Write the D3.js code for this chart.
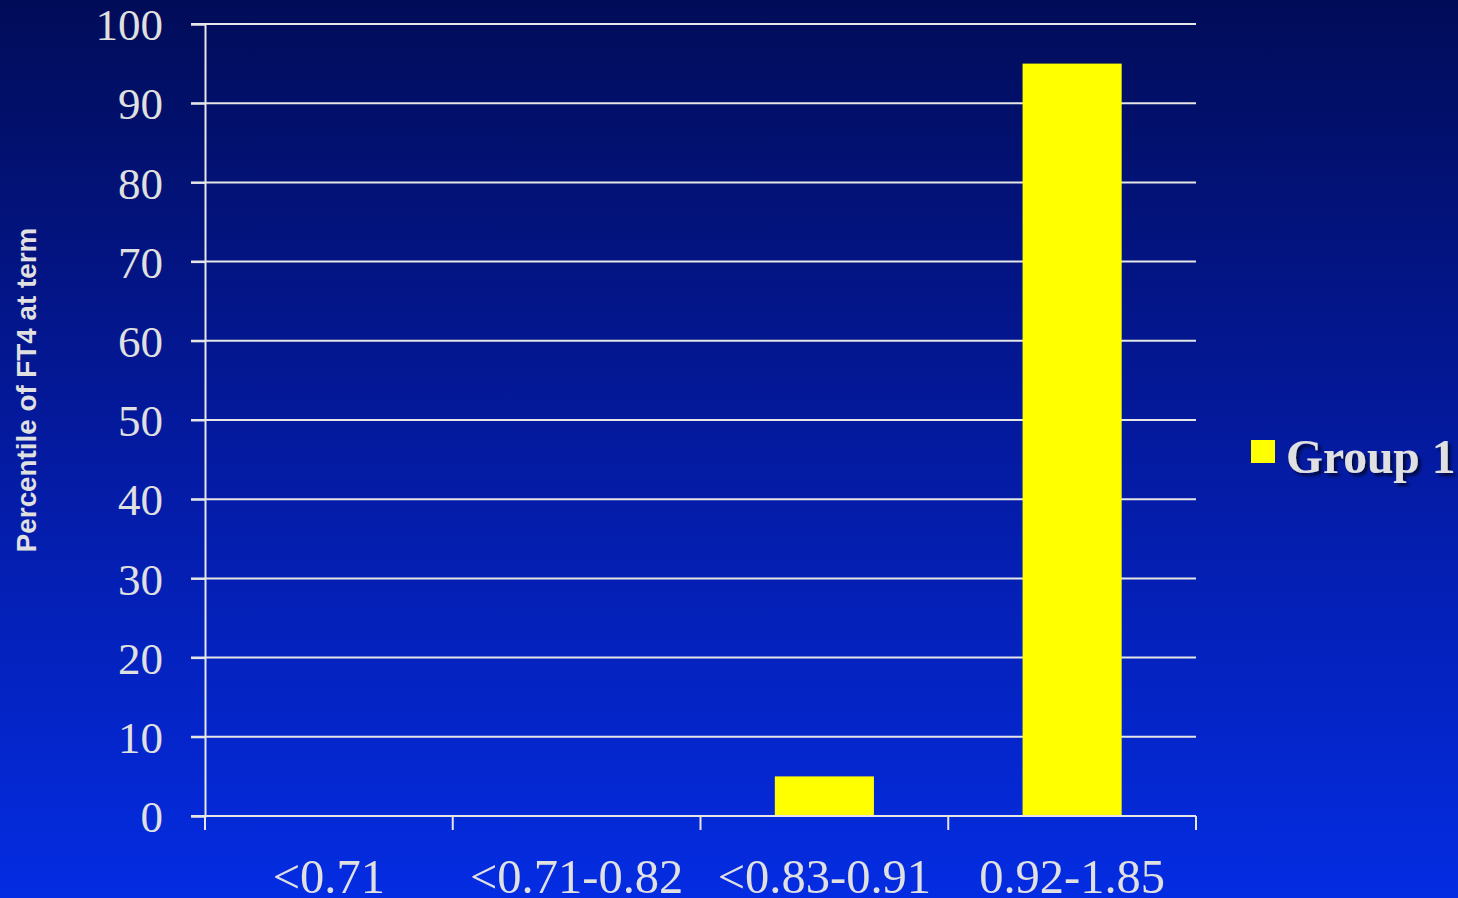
<!DOCTYPE html>
<html><head><meta charset="utf-8">
<script src="https://cdn.jsdelivr.net/npm/d3@7"></script>
<style>html,body{margin:0;padding:0;overflow:hidden;background:#021a9a}</style>
</head><body>
<script>
const categories = ["<0.71", "<0.71-0.82", "<0.83-0.91", "0.92-1.85"];
const group1 = [0, 0, 5, 95];
const yTicks = [0, 10, 20, 30, 40, 50, 60, 70, 80, 90, 100];
const seriesName = "Group 1";
const yTitle = "Percentile of FT4 at term";

(function () {
const W = 1458, H = 898;
const svg = d3.select("body").append("svg").attr("width", W).attr("height", H);
const defs = svg.append("defs");
const grad = defs.append("linearGradient").attr("id", "bg").attr("x1", 0).attr("y1", 0).attr("x2", 0).attr("y2", 1);
grad.append("stop").attr("offset", "0%").attr("stop-color", "#010c58");
grad.append("stop").attr("offset", "50%").attr("stop-color", "#041aa0");
grad.append("stop").attr("offset", "100%").attr("stop-color", "#042ce2");
const sh = defs.append("filter").attr("id", "shadow").attr("x", "-10%").attr("y", "-10%").attr("width", "130%").attr("height", "140%");
sh.append("feDropShadow").attr("dx", 3).attr("dy", 3).attr("stdDeviation", 1.5).attr("flood-color", "#000").attr("flood-opacity", 0.6);

svg.append("rect").attr("width", W).attr("height", H).attr("fill", "url(#bg)");

const pl = 205, pr = 1196, pt = 24, pb = 816;
const x = d3.scaleBand().domain(categories).range([pl, pr]).paddingInner(0).paddingOuter(0);
const y = d3.scaleLinear().domain([0, 100]).range([pb, pt]);
const lineColor = "#e6e6e6";
const textColor = "#e0e0e0";

// gridlines
svg.append("g").selectAll("line").data(yTicks).join("line")
  .attr("x1", pl - 14).attr("x2", pr)
  .attr("y1", d => y(d)).attr("y2", d => y(d))
  .attr("stroke", lineColor).attr("stroke-width", 2);

// y axis
const yAxis = svg.append("g").attr("transform", `translate(${pl},0)`)
  .call(d3.axisLeft(y).tickValues(yTicks).tickSize(14).tickPadding(28));
yAxis.select(".domain").attr("stroke", lineColor).attr("stroke-width", 2);
yAxis.selectAll(".tick line").attr("stroke", lineColor).attr("stroke-width", 2);
yAxis.selectAll("text").attr("fill", textColor).style("font-family", "'Liberation Serif', 'Times New Roman', serif")
  .style("font-size", "45px").attr("dy", "0.35em");

// bars
svg.append("g").selectAll("rect").data(group1).join("rect")
  .attr("x", (d, i) => x(categories[i]) + x.bandwidth() * 0.3)
  .attr("width", x.bandwidth() * 0.4)
  .attr("y", d => y(d))
  .attr("height", d => pb - y(d))
  .attr("fill", "#ffff00");

// x axis
const xAxis = svg.append("g").attr("transform", `translate(0,${pb})`)
  .call(d3.axisBottom(x).tickSize(0).tickPadding(62));
xAxis.select(".domain").attr("stroke", lineColor).attr("stroke-width", 2).attr("d", `M${pl},0H${pr}`);
xAxis.selectAll("text").attr("fill", textColor).style("font-family", "'Liberation Serif', 'Times New Roman', serif")
  .style("font-size", "48.5px").attr("dy", "0.3em");
const bounds = categories.map(c => x(c)).concat([pr]);
xAxis.append("g").selectAll("line").data(bounds).join("line")
  .attr("x1", d => d).attr("x2", d => d).attr("y1", 0).attr("y2", 14)
  .attr("stroke", lineColor).attr("stroke-width", 2);

// y title
svg.append("text").attr("transform", "translate(36,390) rotate(-90)")
  .attr("text-anchor", "middle").attr("fill", textColor)
  .style("font-family", "'Liberation Sans', Arial, sans-serif").style("font-weight", "bold").style("font-size", "27.8px")
  .text(yTitle);

// legend
const lg = svg.append("g");
lg.append("rect").attr("x", 1251).attr("y", 440).attr("width", 24).attr("height", 23).attr("fill", "#ffff00");
lg.append("text").attr("x", 1286).attr("y", 473).attr("fill", textColor).attr("filter", "url(#shadow)")
  .style("font-family", "'Liberation Serif', 'Times New Roman', serif").style("font-weight", "bold").style("font-size", "47.5px")
  .text(seriesName);
})();
</script>
</body></html>
